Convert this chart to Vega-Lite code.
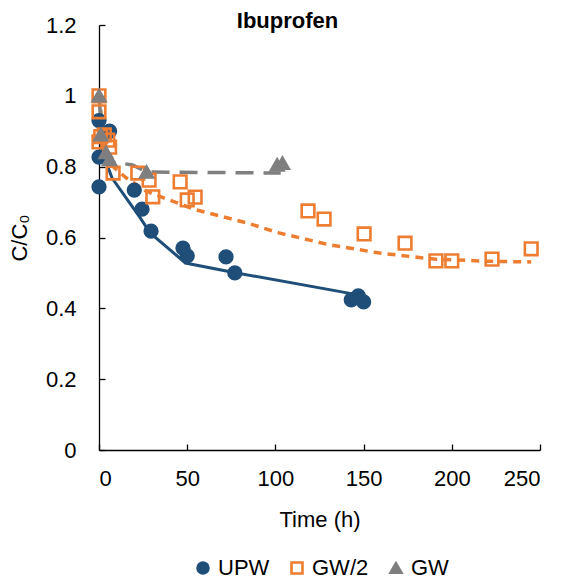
{
  "$schema": "https://vega.github.io/schema/vega-lite/v6.json",
  "width": 441,
  "height": 425,
  "autosize": {"type": "none"},
  "padding": {"left": 99, "top": 25, "right": 26, "bottom": 130},
  "background": "white",
  "title": {"text": "Ibuprofen", "fontSize": 22, "fontWeight": "bold", "font": "Liberation Sans", "color": "black", "anchor": "middle", "dx": -32, "offset": 0, "baseline": "alphabetic", "dy": 36},
  "config": {
    "view": {"stroke": null},
    "font": "Liberation Sans",
    "axis": {"grid": false, "domainColor": "black", "domainWidth": 1.3, "tickColor": "black", "tickWidth": 1.3, "tickSize": -6, "labelFontSize": 22, "titleFontSize": 22, "labelColor": "black", "titleColor": "black", "titleFontWeight": "normal", "labelFont": "Liberation Sans", "titleFont": "Liberation Sans"}
  },
  "datasets": {
    "pts": [
      {"series": "UPW", "t": 0, "c": 0.93},
      {"series": "UPW", "t": 0, "c": 0.827},
      {"series": "UPW", "t": 0, "c": 0.743},
      {"series": "UPW", "t": 6, "c": 0.9},
      {"series": "UPW", "t": 20, "c": 0.734},
      {"series": "UPW", "t": 24.4, "c": 0.68},
      {"series": "UPW", "t": 29.5, "c": 0.618},
      {"series": "UPW", "t": 47.6, "c": 0.57},
      {"series": "UPW", "t": 50, "c": 0.548},
      {"series": "UPW", "t": 72, "c": 0.545},
      {"series": "UPW", "t": 77, "c": 0.5},
      {"series": "UPW", "t": 143, "c": 0.424},
      {"series": "UPW", "t": 147, "c": 0.435},
      {"series": "UPW", "t": 150, "c": 0.418},
      {"series": "GW/2", "t": 0, "c": 1.0},
      {"series": "GW/2", "t": 0, "c": 0.955},
      {"series": "GW/2", "t": 0, "c": 0.87},
      {"series": "GW/2", "t": 1, "c": 0.885},
      {"series": "GW/2", "t": 3, "c": 0.89},
      {"series": "GW/2", "t": 5, "c": 0.875},
      {"series": "GW/2", "t": 6, "c": 0.855},
      {"series": "GW/2", "t": 8, "c": 0.782},
      {"series": "GW/2", "t": 22, "c": 0.782},
      {"series": "GW/2", "t": 28.4, "c": 0.762},
      {"series": "GW/2", "t": 30.5, "c": 0.715},
      {"series": "GW/2", "t": 46, "c": 0.757},
      {"series": "GW/2", "t": 50, "c": 0.706},
      {"series": "GW/2", "t": 54.5, "c": 0.714},
      {"series": "GW/2", "t": 118.5, "c": 0.675},
      {"series": "GW/2", "t": 127.6, "c": 0.652},
      {"series": "GW/2", "t": 150.3, "c": 0.61},
      {"series": "GW/2", "t": 173.5, "c": 0.584},
      {"series": "GW/2", "t": 191, "c": 0.534},
      {"series": "GW/2", "t": 200, "c": 0.534},
      {"series": "GW/2", "t": 222.8, "c": 0.539},
      {"series": "GW/2", "t": 245, "c": 0.568},
      {"series": "GW", "t": 0, "c": 1.0},
      {"series": "GW", "t": 1, "c": 0.89},
      {"series": "GW", "t": 4, "c": 0.84},
      {"series": "GW", "t": 6, "c": 0.82},
      {"series": "GW", "t": 27, "c": 0.785},
      {"series": "GW", "t": 101, "c": 0.805},
      {"series": "GW", "t": 104, "c": 0.81}
    ],
    "fit": [
      {"series": "UPW", "t": 0, "c": 0.9},
      {"series": "UPW", "t": 2, "c": 0.84},
      {"series": "UPW", "t": 7.4, "c": 0.768},
      {"series": "UPW", "t": 23, "c": 0.658},
      {"series": "UPW", "t": 29, "c": 0.613},
      {"series": "UPW", "t": 49, "c": 0.528},
      {"series": "UPW", "t": 78, "c": 0.5},
      {"series": "UPW", "t": 147, "c": 0.438},
      {"series": "GW/2", "t": 0, "c": 1.0},
      {"series": "GW/2", "t": 3, "c": 0.88},
      {"series": "GW/2", "t": 5, "c": 0.83},
      {"series": "GW/2", "t": 8, "c": 0.8},
      {"series": "GW/2", "t": 15, "c": 0.77},
      {"series": "GW/2", "t": 27, "c": 0.73},
      {"series": "GW/2", "t": 55, "c": 0.678},
      {"series": "GW/2", "t": 84, "c": 0.641},
      {"series": "GW/2", "t": 102, "c": 0.613},
      {"series": "GW/2", "t": 130, "c": 0.58},
      {"series": "GW/2", "t": 159, "c": 0.556},
      {"series": "GW/2", "t": 190, "c": 0.539},
      {"series": "GW/2", "t": 220, "c": 0.533},
      {"series": "GW/2", "t": 245, "c": 0.531},
      {"series": "GW", "t": 0, "c": 1.0},
      {"series": "GW", "t": 2, "c": 0.87},
      {"series": "GW", "t": 5, "c": 0.815},
      {"series": "GW", "t": 19, "c": 0.805},
      {"series": "GW", "t": 27, "c": 0.785},
      {"series": "GW", "t": 103, "c": 0.782}
    ]
  },
  "encoding": {
    "x": {"field": "t", "type": "quantitative", "scale": {"domain": [0, 250], "nice": false, "zero": false}, "axis": {"title": "Time (h)", "values": [0, 50, 100, 150, 200, 250], "labelPadding": 24, "titlePadding": 20}},
    "y": {"field": "c", "type": "quantitative", "scale": {"domain": [0, 1.2], "nice": false}, "axis": {"title": "C/C₀", "values": [0, 0.2, 0.4, 0.6, 0.8, 1.0, 1.2], "labelExpr": "datum.value == 1 ? '1' : format(datum.value, '.1f') == '0.0' ? '0' : format(datum.value, '.1f')", "labelPadding": 29, "titlePadding": 14}}
  },
  "layer": [
    {
      "data": {"name": "fit"},
      "transform": [{"filter": "datum.series == 'UPW'"}],
      "mark": {"type": "line", "color": "#1F4E79", "strokeWidth": 3}
    },
    {
      "data": {"name": "fit"},
      "transform": [{"filter": "datum.series == 'GW/2'"}],
      "mark": {"type": "line", "color": "#ED7D31", "strokeWidth": 3.5, "strokeDash": [8, 6]}
    },
    {
      "data": {"name": "fit"},
      "transform": [{"filter": "datum.series == 'GW'"}],
      "mark": {"type": "line", "color": "#7F7F7F", "strokeWidth": 3.5, "strokeDash": [18, 10]}
    },
    {
      "data": {"name": "pts"},
      "mark": {"type": "point", "filled": false, "strokeWidth": 2.6, "opacity": 1},
      "encoding": {
        "color": {"field": "series", "type": "nominal", "scale": {"domain": ["UPW", "GW/2", "GW"], "range": ["#1F4E79", "#ED7D31", "#7F7F7F"]}, "legend": {"title": null, "orient": "none", "legendX": 93, "legendY": 532, "direction": "horizontal", "labelFontSize": 22, "labelColor": "black", "symbolSize": 120, "columnPadding": 16, "symbolStrokeWidth": 2.6, "labelOffset": 4}},
        "fill": {"field": "series", "type": "nominal", "scale": {"domain": ["UPW", "GW/2", "GW"], "range": ["#1F4E79", "transparent", "#7F7F7F"]}, "legend": {"title": null, "orient": "none", "legendX": 93, "legendY": 532, "direction": "horizontal", "labelFontSize": 22, "labelColor": "black", "symbolSize": 120, "columnPadding": 16, "symbolStrokeWidth": 2.6, "labelOffset": 4}},
        "shape": {"field": "series", "type": "nominal", "scale": {"domain": ["UPW", "GW/2", "GW"], "range": ["circle", "square", "triangle-up"]}, "legend": {"title": null, "orient": "none", "legendX": 93, "legendY": 532, "direction": "horizontal", "labelFontSize": 22, "labelColor": "black", "symbolSize": 120, "columnPadding": 16, "symbolStrokeWidth": 2.6, "labelOffset": 4}},
        "size": {"value": 160}
      }
    }
  ]
}
